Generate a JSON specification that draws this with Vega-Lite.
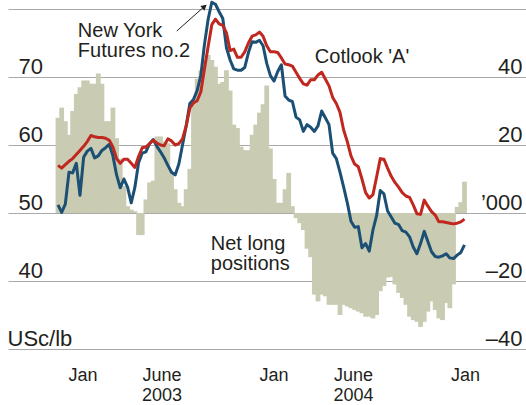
{
"$schema": "https://vega.github.io/schema/vega-lite/v6.json",
"width": 518, "height": 340,
"autosize": {"type": "none"},
"padding": {"left": 8, "top": 9, "right": 0, "bottom": 56},
"config": {"view": {"stroke": null}, "font": "Liberation Sans", "axis": {"labelColor": "#231f20", "labelFont": "Liberation Sans"}},
"data": {"values": [
{"date":"2002-11-15","net":28,"ny":51.2,"cot":57},
{"date":"2002-11-22","net":31,"ny":50.1,"cot":56.6},
{"date":"2002-11-29","net":27,"ny":51.3,"cot":57.1},
{"date":"2002-12-06","net":23,"ny":56,"cot":57.6},
{"date":"2002-12-13","net":30,"ny":55.9,"cot":58},
{"date":"2002-12-20","net":35,"ny":57.3,"cot":58.6},
{"date":"2002-12-27","net":37,"ny":52.6,"cot":59.2},
{"date":"2003-01-03","net":39,"ny":58.2,"cot":59.8},
{"date":"2003-01-10","net":39,"ny":59.1,"cot":60.5},
{"date":"2003-01-17","net":38,"ny":59.5,"cot":61.4},
{"date":"2003-01-24","net":38,"ny":58.1,"cot":61.2},
{"date":"2003-01-31","net":41,"ny":58.4,"cot":61.1},
{"date":"2003-02-07","net":38,"ny":59.2,"cot":61.1},
{"date":"2003-02-14","net":27,"ny":59.6,"cot":61},
{"date":"2003-02-21","net":27,"ny":60.1,"cot":60.7},
{"date":"2003-02-28","net":31,"ny":58.4,"cot":59.7},
{"date":"2003-03-07","net":22,"ny":55.6,"cot":58},
{"date":"2003-03-14","net":16,"ny":53.7,"cot":57.3},
{"date":"2003-03-21","net":8,"ny":55,"cot":57.9},
{"date":"2003-03-28","net":2,"ny":53.8,"cot":57.9},
{"date":"2003-04-04","net":1,"ny":51.5,"cot":57.3},
{"date":"2003-04-11","net":0.5,"ny":53.8,"cot":56.7},
{"date":"2003-04-18","net":-6.5,"ny":57.4,"cot":58.3},
{"date":"2003-04-25","net":-6.5,"ny":58.8,"cot":59.6},
{"date":"2003-05-02","net":4,"ny":59,"cot":59.7},
{"date":"2003-05-09","net":9,"ny":60.2,"cot":60.2},
{"date":"2003-05-16","net":9.5,"ny":60.8,"cot":60.7},
{"date":"2003-05-23","net":22.5,"ny":59.8,"cot":60.3},
{"date":"2003-05-30","net":22.5,"ny":59,"cot":60},
{"date":"2003-06-06","net":21,"ny":58.1,"cot":59.9},
{"date":"2003-06-13","net":20.5,"ny":57,"cot":60.9},
{"date":"2003-06-20","net":12,"ny":56,"cot":60.6},
{"date":"2003-06-27","net":7,"ny":55.6,"cot":60},
{"date":"2003-07-04","net":3,"ny":57.2,"cot":60.2},
{"date":"2003-07-11","net":2,"ny":60,"cot":60.9},
{"date":"2003-07-18","net":7,"ny":62.8,"cot":62.8},
{"date":"2003-07-25","net":13,"ny":66.1,"cot":65.4},
{"date":"2003-08-01","net":33,"ny":66.7,"cot":66.2},
{"date":"2003-08-08","net":39.5,"ny":68,"cot":66.5},
{"date":"2003-08-15","net":42,"ny":70.2,"cot":67.8},
{"date":"2003-08-22","net":45,"ny":74.8,"cot":71.2},
{"date":"2003-08-29","net":46.5,"ny":78.5,"cot":74.5},
{"date":"2003-09-05","net":45,"ny":81,"cot":77.7},
{"date":"2003-09-12","net":43,"ny":80.7,"cot":78.5},
{"date":"2003-09-19","net":38,"ny":79.6,"cot":77.8},
{"date":"2003-09-26","net":38.5,"ny":78.6,"cot":77.6},
{"date":"2003-10-03","net":42,"ny":74.3,"cot":76.5},
{"date":"2003-10-10","net":36,"ny":72.5,"cot":73.9},
{"date":"2003-10-17","net":26,"ny":71.2,"cot":74.1},
{"date":"2003-10-24","net":25,"ny":71,"cot":72.9},
{"date":"2003-10-31","net":19.5,"ny":71,"cot":72.9},
{"date":"2003-11-07","net":18.5,"ny":71.4,"cot":73.7},
{"date":"2003-11-14","net":18.5,"ny":73.6,"cot":75},
{"date":"2003-11-21","net":23,"ny":75.2,"cot":76},
{"date":"2003-11-28","net":26,"ny":75.1,"cot":76.2},
{"date":"2003-12-05","net":29.5,"ny":75.4,"cot":76.6},
{"date":"2003-12-12","net":32,"ny":74.6,"cot":76},
{"date":"2003-12-19","net":37.5,"ny":72,"cot":74.6},
{"date":"2003-12-26","net":19,"ny":70.2,"cot":73.7},
{"date":"2004-01-02","net":10,"ny":69.4,"cot":73.7},
{"date":"2004-01-09","net":3,"ny":70.8,"cot":73.6},
{"date":"2004-01-16","net":3,"ny":71.8,"cot":72.8},
{"date":"2004-01-23","net":7,"ny":67.2,"cot":71.9},
{"date":"2004-01-30","net":11.8,"ny":66.6,"cot":71.8},
{"date":"2004-02-06","net":2,"ny":66.4,"cot":71.6},
{"date":"2004-02-13","net":-1.5,"ny":64.1,"cot":70.7},
{"date":"2004-02-20","net":-3,"ny":63.7,"cot":69.8},
{"date":"2004-02-27","net":-5,"ny":62,"cot":69},
{"date":"2004-03-05","net":-10.5,"ny":63,"cot":68.8},
{"date":"2004-03-12","net":-13,"ny":62.6,"cot":69.6},
{"date":"2004-03-19","net":-24,"ny":62,"cot":69.6},
{"date":"2004-03-26","net":-26,"ny":62.8,"cot":70.3},
{"date":"2004-04-02","net":-24,"ny":65,"cot":70.7},
{"date":"2004-04-09","net":-24.5,"ny":64,"cot":69.7},
{"date":"2004-04-16","net":-27,"ny":63,"cot":68.7},
{"date":"2004-04-23","net":-27,"ny":58.8,"cot":67},
{"date":"2004-04-30","net":-27,"ny":58,"cot":66.1},
{"date":"2004-05-07","net":-30,"ny":56,"cot":64.8},
{"date":"2004-05-14","net":-27,"ny":53.8,"cot":62.2},
{"date":"2004-05-21","net":-27.5,"ny":51.5,"cot":60.5},
{"date":"2004-05-28","net":-28,"ny":48.8,"cot":58.4},
{"date":"2004-06-04","net":-28.5,"ny":47.9,"cot":57.2},
{"date":"2004-06-11","net":-29,"ny":48,"cot":56.8},
{"date":"2004-06-18","net":-29.5,"ny":44.9,"cot":55},
{"date":"2004-06-25","net":-30.5,"ny":45.5,"cot":53},
{"date":"2004-07-02","net":-30.5,"ny":44.4,"cot":52.2},
{"date":"2004-07-09","net":-31,"ny":47.5,"cot":52.7},
{"date":"2004-07-16","net":-30,"ny":49.6,"cot":55.3},
{"date":"2004-07-23","net":-23,"ny":53.3,"cot":58},
{"date":"2004-07-30","net":-21.5,"ny":52.8,"cot":57.9},
{"date":"2004-08-06","net":-19,"ny":50.3,"cot":56.6},
{"date":"2004-08-13","net":-18.8,"ny":49.4,"cot":55.4},
{"date":"2004-08-20","net":-21,"ny":48.5,"cot":54.5},
{"date":"2004-08-27","net":-23.5,"ny":48.3,"cot":53.8},
{"date":"2004-09-03","net":-25,"ny":47.4,"cot":53},
{"date":"2004-09-10","net":-27,"ny":47.2,"cot":52.5},
{"date":"2004-09-17","net":-30.5,"ny":46.5,"cot":52.3},
{"date":"2004-09-24","net":-31.5,"ny":45,"cot":51.2},
{"date":"2004-10-01","net":-32,"ny":44,"cot":49.9},
{"date":"2004-10-08","net":-33.5,"ny":45.5,"cot":49.8},
{"date":"2004-10-15","net":-32,"ny":47.3,"cot":51.9},
{"date":"2004-10-22","net":-29,"ny":45.8,"cot":51},
{"date":"2004-10-29","net":-26,"ny":44.3,"cot":50.2},
{"date":"2004-11-05","net":-28.5,"ny":43.6,"cot":49.7},
{"date":"2004-11-12","net":-31,"ny":43.5,"cot":48.7},
{"date":"2004-11-19","net":-31.5,"ny":43.7,"cot":48.7},
{"date":"2004-11-26","net":-26.5,"ny":44,"cot":48.6},
{"date":"2004-12-03","net":-28,"ny":43.4,"cot":48.5},
{"date":"2004-12-10","net":-21,"ny":43.3,"cot":48.4},
{"date":"2004-12-17","net":1.8,"ny":43.8,"cot":48.5},
{"date":"2004-12-24","net":3.2,"ny":44.2,"cot":48.7},
{"date":"2004-12-31","net":9.2,"ny":45.3,"cot":49.1}
]},
"encoding": {
  "x": {"field": "date", "type": "temporal",
    "scale": {"type": "utc", "domain": [{"year": 2002, "month": 8, "date": 21, "utc": true}, {"year": 2005, "month": 4, "date": 18, "utc": true}]},
    "axis": {"values": [{"year": 2003, "month": 1, "date": 1, "utc": true}, {"year": 2003, "month": 6, "date": 1, "utc": true}, {"year": 2004, "month": 1, "date": 1, "utc": true}, {"year": 2004, "month": 6, "date": 1, "utc": true}, {"year": 2005, "month": 1, "date": 1, "utc": true}],
      "labelExpr": "utcmonth(datum.value) == 0 ? 'Jan' : ['June', utcFormat(datum.value, '%Y')]",
      "grid": false, "domain": false, "ticks": false, "tickSize": 0,
      "labelPadding": 17, "labelBaseline": "top", "labelFontSize": 18, "labelLineHeight": 20,
      "labelOverlap": false, "labelFlush": false, "labelBound": false, "title": null}}
},
"layer": [
  {"mark": {"type": "bar", "width": 4.8, "color": "#c9ccb2", "strokeWidth": 0, "opacity": 1, "fillOpacity": 1},
   "encoding": {
     "y": {"field": "net", "type": "quantitative", "scale": {"domain": [-40, 60], "nice": false, "zero": false},
       "axis": {"orient": "right", "values": [-40, -20, 0, 20, 40], "grid": false, "domain": false, "ticks": false, "tickSize": 0,
         "labelAlign": "right", "labelBaseline": "alphabetic", "labelPadding": -4, "labelOffset": -4, "labelFontSize": 22,
         "labelExpr": "datum.value == 0 ? '\u2019000' : replace(replace(datum.label, '\u2212', '\u2013'), '-', '\u2013')", "title": null}},
     "y2": {"datum": 0}
   }},
  {"layer": [
    {"mark": {"type": "line", "color": "#1b4f74", "strokeWidth": 3, "strokeJoin": "round"},
     "encoding": {"y": {"field": "ny", "type": "quantitative", "scale": {"domain": [30, 80], "nice": false, "zero": false},
       "axis": {"orient": "left", "values": [30, 40, 50, 60, 70, 80], "grid": true, "gridColor": "#a9a9a9", "gridWidth": 1.2,
         "domain": false, "ticks": false, "tickSize": 0,
         "labelAlign": "left", "labelBaseline": "alphabetic",
         "labelPadding": {"condition": {"test": "datum.value == 30", "value": 1}, "value": -10},
         "labelOffset": -4, "labelFontSize": 22,
         "labelExpr": "datum.value == 30 ? 'USc/lb' : (datum.value == 80 ? '' : datum.label)", "title": null}}}},
    {"mark": {"type": "line", "color": "#c0281f", "strokeWidth": 3, "strokeJoin": "round"},
     "encoding": {"y": {"field": "cot", "type": "quantitative", "scale": {"domain": [30, 80], "nice": false, "zero": false}}}},
    {"data": {"values": [
      {"date": "2002-12-23", "v": 75.9, "label": "New York\nFutures no.2"},
      {"date": "2004-03-20", "v": 72.06, "label": "Cotlook 'A'"},
      {"date": "2003-09-03", "v": 44.56, "label": "Net long\npositions"}
     ]},
     "mark": {"type": "text", "align": "left", "baseline": "alphabetic", "fontSize": 20, "lineHeight": 20.5, "lineBreak": "\n", "color": "#231f20"},
     "encoding": {"y": {"field": "v", "type": "quantitative", "scale": {"domain": [30, 80], "nice": false, "zero": false}},
       "text": {"field": "label", "type": "nominal"}}},
    {"data": {"values": [{"date": "2003-06-30", "date2": "2003-08-25", "v": 76.76, "v2": 80.59}]},
     "mark": {"type": "rule", "color": "#231f20", "strokeWidth": 1},
     "encoding": {"x2": {"field": "date2"},
       "y": {"field": "v", "type": "quantitative", "scale": {"domain": [30, 80], "nice": false, "zero": false}},
       "y2": {"field": "v2"}}},
    {"data": {"values": [{"date": "2003-08-22", "v": 80.37}]},
     "mark": {"type": "point", "shape": "triangle-up", "angle": 49, "size": 40, "filled": true, "opacity": 1, "color": "#231f20"},
     "encoding": {"y": {"field": "v", "type": "quantitative", "scale": {"domain": [30, 80], "nice": false, "zero": false}}}}
  ]}
],
"resolve": {"scale": {"y": "independent"}}
}
